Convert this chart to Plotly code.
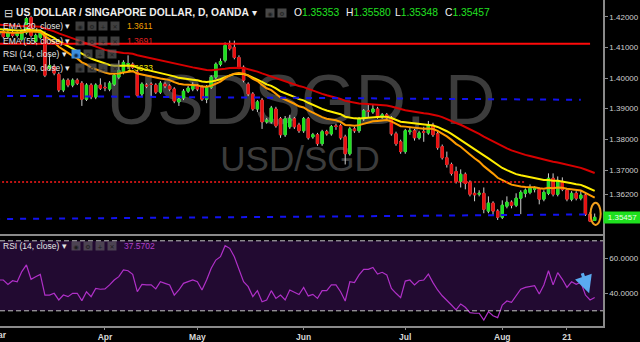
import plotly.graph_objects as go

# ---------------- data ----------------
month_ticks = [23, 43, 66, 88, 109, 123]
month_labels = ["Apr", "May", "Jun", "Jul", "Aug", "21"]
first_month_index = 0
first_month_label = "Mar"

opens = [1.4142, 1.4152, 1.4135, 1.4148, 1.4139, 1.4126, 1.4148, 1.4197, 1.4119, 1.4132,
         1.4145, 1.4032, 1.4038, 1.4012, 1.3961, 1.3993, 1.3977, 1.3993, 1.3983, 1.3931,
         1.3977, 1.3938, 1.3977, 1.3970, 1.3964, 1.3980, 1.4003, 1.4019, 1.4045, 1.4045,
         1.4019, 1.3948, 1.3977, 1.3980, 1.3977, 1.3954, 1.3980, 1.3974, 1.3964, 1.3922,
         1.3935, 1.3957, 1.3964, 1.3974, 1.3970, 1.3931, 1.3970, 1.4003, 1.4045, 1.4058,
         1.4106, 1.4100, 1.4067, 1.4035, 1.3980, 1.3948, 1.3899, 1.3928, 1.3857, 1.3857,
         1.3899, 1.3867, 1.3815, 1.3841, 1.3867, 1.3847, 1.3828, 1.3867, 1.3808, 1.3815,
         1.3786, 1.3825, 1.3818, 1.3844, 1.3844, 1.3808, 1.3753, 1.3834, 1.3828, 1.3867,
         1.3893, 1.3889, 1.3899, 1.3873, 1.3880, 1.3870, 1.3818, 1.3792, 1.3760, 1.3825,
         1.3828, 1.3805, 1.3825, 1.3821, 1.3847, 1.3818, 1.3776, 1.3740, 1.3718, 1.3695,
         1.3663, 1.3686, 1.3660, 1.3624, 1.3621, 1.3624, 1.3566, 1.3592, 1.3566, 1.3546,
         1.3582, 1.3595, 1.3585, 1.3608, 1.3624, 1.3627, 1.3637, 1.3637, 1.3605, 1.3624,
         1.3673, 1.3621, 1.3663, 1.3634, 1.3605, 1.3624, 1.3608, 1.3618, 1.3556, 1.35353]
highs = [1.4158, 1.4158, 1.4155, 1.4155, 1.4152, 1.4158, 1.4200, 1.4203, 1.4145, 1.4158,
         1.4152, 1.4074, 1.4045, 1.4019, 1.3999, 1.3999, 1.3999, 1.3999, 1.3990, 1.3983,
         1.3983, 1.3983, 1.3999, 1.3986, 1.3990, 1.4016, 1.4058, 1.4058, 1.4074, 1.4051,
         1.4025, 1.3986, 1.3983, 1.3986, 1.3983, 1.3990, 1.3986, 1.3980, 1.3970, 1.3938,
         1.3964, 1.3974, 1.3986, 1.3980, 1.3977, 1.3977, 1.4009, 1.4051, 1.4064, 1.4116,
         1.4122, 1.4122, 1.4074, 1.4041, 1.3986, 1.3954, 1.3928, 1.3935, 1.3870, 1.3909,
         1.3906, 1.3873, 1.3876, 1.3880, 1.3873, 1.3854, 1.3873, 1.3873, 1.3821, 1.3821,
         1.3831, 1.3831, 1.3847, 1.3851, 1.3851, 1.3815, 1.3841, 1.3841, 1.3873, 1.3899,
         1.3912, 1.3912, 1.3906, 1.3886, 1.3886, 1.3876, 1.3825, 1.3799, 1.3834, 1.3841,
         1.3834, 1.3828, 1.3841, 1.3860, 1.3854, 1.3825, 1.3783, 1.3760, 1.3724, 1.3711,
         1.3702, 1.3692, 1.3666, 1.3643, 1.3634, 1.3643, 1.3614, 1.3598, 1.3572, 1.3601,
         1.3614, 1.3601, 1.3624, 1.3634, 1.3640, 1.3653, 1.3647, 1.3643, 1.3634, 1.3689,
         1.3689, 1.3679, 1.3676, 1.3640, 1.3631, 1.3631, 1.3631, 1.3624, 1.3563, 1.35580]
lows = [1.4132, 1.4129, 1.4129, 1.4132, 1.4132, 1.4119, 1.4142, 1.4132, 1.4113, 1.4126,
        1.4003, 1.4025, 1.4009, 1.3954, 1.3954, 1.3970, 1.3970, 1.3977, 1.3909, 1.3925,
        1.3931, 1.3931, 1.3961, 1.3957, 1.3957, 1.3974, 1.3996, 1.4012, 1.4029, 1.4029,
        1.3938, 1.3941, 1.3967, 1.3938, 1.3948, 1.3948, 1.3967, 1.3957, 1.3918, 1.3909,
        1.3928, 1.3951, 1.3957, 1.3957, 1.3925, 1.3918, 1.3964, 1.3996, 1.4038, 1.4051,
        1.4090, 1.4061, 1.4029, 1.3986, 1.3941, 1.3893, 1.3889, 1.3834, 1.3851, 1.3851,
        1.3838, 1.3805, 1.3808, 1.3834, 1.3834, 1.3821, 1.3821, 1.3799, 1.3802, 1.3779,
        1.3779, 1.3812, 1.3812, 1.3831, 1.3799, 1.3718, 1.3747, 1.3821, 1.3821, 1.3860,
        1.3873, 1.3883, 1.3867, 1.3867, 1.3863, 1.3812, 1.3779, 1.3753, 1.3753, 1.3815,
        1.3796, 1.3799, 1.3792, 1.3815, 1.3808, 1.3766, 1.3734, 1.3708, 1.3682, 1.3656,
        1.3643, 1.3637, 1.3614, 1.3598, 1.3614, 1.3559, 1.3559, 1.3553, 1.3537, 1.3540,
        1.3575, 1.3575, 1.3579, 1.3556, 1.3611, 1.3621, 1.3627, 1.3588, 1.3598, 1.3618,
        1.3614, 1.3614, 1.3631, 1.3598, 1.3598, 1.3601, 1.3601, 1.3550, 1.3530, 1.35348]
closes = [1.4152, 1.4135, 1.4148, 1.4139, 1.4145, 1.4152, 1.4194, 1.4139, 1.4139, 1.4152,
          1.4009, 1.4041, 1.4016, 1.3961, 1.3993, 1.3977, 1.3993, 1.3983, 1.3931, 1.3977,
          1.3938, 1.3977, 1.3967, 1.3968, 1.3983, 1.4009, 1.4025, 1.4051, 1.4047, 1.4035,
          1.3944, 1.3980, 1.3974, 1.3979, 1.3954, 1.3983, 1.3974, 1.3964, 1.3925, 1.3931,
          1.3957, 1.3967, 1.3974, 1.3964, 1.3931, 1.3970, 1.4003, 1.4045, 1.4054, 1.4106,
          1.4096, 1.4067, 1.4035, 1.3993, 1.3948, 1.3899, 1.3922, 1.3857, 1.3863, 1.3902,
          1.3844, 1.3815, 1.3867, 1.3867, 1.3841, 1.3828, 1.3867, 1.3805, 1.3815, 1.3786,
          1.3825, 1.3818, 1.3841, 1.3842, 1.3805, 1.3753, 1.3834, 1.3828, 1.3867, 1.3893,
          1.3891, 1.3899, 1.3873, 1.3880, 1.3870, 1.3818, 1.3786, 1.3760, 1.3828, 1.3828,
          1.3805, 1.3821, 1.3823, 1.3847, 1.3815, 1.3773, 1.3740, 1.3718, 1.3689, 1.3663,
          1.3686, 1.3656, 1.3621, 1.3619, 1.3624, 1.3572, 1.3592, 1.3566, 1.3546, 1.3585,
          1.3595, 1.3585, 1.3608, 1.3627, 1.3634, 1.3640, 1.3639, 1.3605, 1.3627, 1.3673,
          1.3621, 1.3666, 1.3637, 1.3605, 1.3624, 1.3608, 1.3618, 1.3556, 1.3533, 1.35457]

rsi_values = [47.6, 47.6, 45.1, 47.2, 46.6, 52.4, 56.2, 48.0, 49.5, 50.8,
              39.0, 39.0, 40.0, 36.2, 39.0, 38.1, 40.0, 40.0, 35.8, 40.9,
              38.1, 42.8, 42.3, 42.5, 44.8, 47.6, 49.5, 53.3, 52.9, 50.8,
              40.9, 45.1, 44.8, 44.8, 42.5, 46.6, 45.7, 44.8, 39.0, 41.9,
              45.7, 46.6, 47.6, 46.6, 41.9, 47.6, 54.3, 59.0, 60.9, 67.2,
              65.7, 60.9, 54.3, 46.6, 43.8, 38.1, 41.5, 35.2, 36.2, 41.5,
              37.1, 39.0, 36.2, 41.9, 40.6, 39.3, 43.4, 38.5, 39.4, 37.1,
              41.5, 41.5, 44.8, 44.8, 40.9, 35.6, 46.6, 46.1, 50.5, 53.7,
              53.7, 54.8, 51.0, 52.0, 50.5, 42.8, 40.0, 37.5, 47.0, 47.6,
              44.8, 47.2, 47.6, 51.0, 46.1, 41.9, 38.6, 36.2, 33.3, 30.5,
              33.9, 32.0, 28.9, 28.6, 28.6, 24.7, 29.5, 27.2, 26.1, 33.3,
              35.6, 34.8, 38.5, 42.3, 43.4, 43.8, 44.4, 39.6, 44.8, 52.9,
              44.8, 51.8, 48.0, 43.4, 46.6, 45.1, 46.3, 39.0, 36.2, 37.57]

ema_periods = [55, 30, 20]
ema_seeds = [1.4175, 1.4160, 1.4150]          # indicator values at the first visible bar
ema_colors = ["#d80000", "#ffee00", "#ff9c00"]

resist_x = [-1, 128]
resist_y = [1.4112, 1.4112]
upper_trend_x = [-1, 126]
upper_trend_y = [1.3942, 1.3929]
lower_trend_x = [-1, 127]
lower_trend_y = [1.3540, 1.3555]
dotted_x = [-1, 114]
dotted_y = [1.3661, 1.3661]
ellipse_box = [128.1, 130.3, 1.3521, 1.3593]
arrow_tail = [126.2, 52.3]
arrow_head = [127.8, 40.0]

price_ticks = [1.42, 1.41, 1.40, 1.39, 1.38, 1.37, 1.362]
price_tick_text = ["1.42000", "1.41000", "1.40000", "1.39000", "1.38000", "1.37000", "1.36200"]
rsi_ticks = [60, 40]
rsi_tick_text = ["60.0000", "40.0000"]
last_price = 1.35457
last_price_text = "1.35457"

title_text = "US DOLLAR / SINGAPORE DOLLAR, D, OANDA"
ohlc_letters = ["O", "H", "L", "C"]
ohlc_text = ["1.35353", "1.35580", "1.35348", "1.35457"]
legend_names = ["EMA (20, close)", "EMA (55, close)", "RSI (14, close)", "EMA (30, close)"]
legend_values = ["1.3611", "1.3691", "", "1.3633"]
legend_value_colors = ["#f2a000", "#e02020", "#ffffff", "#f0e400"]
rsi_legend_name = "RSI (14, close)"
rsi_legend_value = "37.5702"
watermark_big = "USDSGD, D"
watermark_small = "USD/SGD"

# ---------------- figure ----------------
W, H = 640, 342
FONT = "Liberation Sans, Arial, sans-serif"
PLOT_RIGHT = 603
x_range = [0.28, 130.8]

def fx(px):
    return px / W
def fy(py):
    return 1 - py / H
def idx_to_paper(i):
    return (i - x_range[0]) / (x_range[1] - x_range[0]) * PLOT_RIGHT / W

x_idx = list(range(len(closes)))

def ema(vals, period, seed):
    a = 2.0 / (period + 1)
    e = seed
    out = []
    for v in vals:
        e = a * v + (1 - a) * e
        out.append(e)
    return out

fig = go.Figure()

# wicks (light gray)
fig.add_trace(go.Candlestick(
    x=x_idx, open=opens, high=highs, low=lows, close=closes,
    increasing=dict(line=dict(color="#cfcfcf", width=1), fillcolor="#cfcfcf"),
    decreasing=dict(line=dict(color="#cfcfcf", width=1), fillcolor="#cfcfcf"),
    whiskerwidth=0, showlegend=False, hoverinfo="skip", xaxis="x", yaxis="y"))
# bodies
body_hi = [max(o, c) for o, c in zip(opens, closes)]
body_lo = [min(o, c) for o, c in zip(opens, closes)]
fig.add_trace(go.Candlestick(
    x=x_idx, open=opens, high=body_hi, low=body_lo, close=closes,
    increasing=dict(line=dict(color="#1ee01e", width=1), fillcolor="#1ee01e"),
    decreasing=dict(line=dict(color="#e81010", width=1), fillcolor="#e81010"),
    whiskerwidth=0, showlegend=False, hoverinfo="skip", xaxis="x", yaxis="y"))

for p, s, col in zip(ema_periods, ema_seeds, ema_colors):
    fig.add_trace(go.Scatter(x=x_idx, y=ema(closes, p, s), mode="lines",
                             line=dict(color=col, width=2), showlegend=False,
                             hoverinfo="skip", xaxis="x", yaxis="y"))

fig.add_trace(go.Scatter(x=resist_x, y=resist_y, mode="lines",
                         line=dict(color="#ff0a0a", width=2), showlegend=False, xaxis="x", yaxis="y"))
for tx, ty in ((upper_trend_x, upper_trend_y), (lower_trend_x, lower_trend_y)):
    fig.add_trace(go.Scatter(x=tx, y=ty, mode="lines",
                             line=dict(color="#1212f0", width=2, dash="6px,7px"),
                             showlegend=False, xaxis="x", yaxis="y"))
fig.add_trace(go.Scatter(x=dotted_x, y=dotted_y, mode="lines",
                         line=dict(color="#ff1a1a", width=1.5, dash="2px,2px"),
                         showlegend=False, xaxis="x", yaxis="y"))

# RSI
fig.add_trace(go.Scatter(x=x_idx, y=rsi_values, mode="lines",
                         line=dict(color="#b030c8", width=1.2), showlegend=False,
                         hoverinfo="skip", xaxis="x2", yaxis="y2"))

shapes = []
# watermark (behind traces)
shapes.append(dict(type="rect", xref="paper", yref="paper", x0=fx(100), x1=fx(502),
                   y0=fy(122), y1=fy(64), line=dict(width=0), fillcolor="rgba(0,0,0,0)",
                   layer="below",
                   label=dict(text=watermark_big, textposition="middle center",
                              font=dict(size=70, color="#3c3c3c", family=FONT))))
shapes.append(dict(type="rect", xref="paper", yref="paper", x0=fx(200), x1=fx(400),
                   y0=fy(170), y1=fy(141), line=dict(width=0), fillcolor="rgba(0,0,0,0)",
                   layer="below",
                   label=dict(text=watermark_small, textposition="middle center",
                              font=dict(size=35, color="#3c3c3c", family=FONT))))
# RSI band
shapes.append(dict(type="rect", xref="paper", yref="y2", x0=0, x1=fx(PLOT_RIGHT), y0=30, y1=70,
                   fillcolor="#220a31", line=dict(width=0), layer="below"))
for lvl in (70, 30):
    shapes.append(dict(type="line", xref="paper", yref="y2", x0=0, x1=fx(PLOT_RIGHT), y0=lvl, y1=lvl,
                       line=dict(color="#c4c4c4", width=1, dash="5px,3px")))
# ellipse around last candle
shapes.append(dict(type="circle", xref="x", yref="y", x0=ellipse_box[0], x1=ellipse_box[1],
                   y0=ellipse_box[2], y1=ellipse_box[3], line=dict(color="#f0a01e", width=2)))

ann = []
def txt(px, py, s, size, color, anchor="left"):
    ann.append(dict(x=fx(px), y=fy(py), xref="paper", yref="paper", text=s, showarrow=False,
                    xanchor=anchor, yanchor="middle", font=dict(size=size, color=color, family=FONT)))
def icon(px, py, glyph, bg="rgba(105,105,105,0.6)", col="#1c1c1c"):
    ann.append(dict(x=fx(px), y=fy(py), xref="paper", yref="paper", text=glyph, showarrow=False,
                    xanchor="left", yanchor="middle", width=8, height=8, bgcolor=bg, borderpad=0,
                    font=dict(size=6, color=col, family="DejaVu Sans")))

# header
txt(2, 12.7, "⊟", 11, "#d8d8d8")
txt(14, 12.7, "<b>" + title_text + "</b> ▾", 10.3, "#eeeeee")
icon(265, 12.5, "◉", bg="rgba(80,80,80,0.9)")
icon(277, 12.5, "⚙", bg="rgba(80,80,80,0.9)")
for px, lt, val in zip([292, 344, 393, 443], ohlc_letters, ohlc_text):
    txt(px, 12.7, lt + "<span style='color:#22e022'>" + val + "</span>", 10.3, "#f0f0f0")

# indicator legend rows
row_y = [26.0, 40.7, 54.3, 68.3]
for name, val, vcol, ry in zip(legend_names, legend_values, legend_value_colors, row_y):
    txt(1, ry, name + " ▾", 8.5, "#e6e6e6")
    if name.startswith("RSI"):
        icon(71, ry, "◉", bg="#3d8fe0", col="#0a2a50")
        xs = [83, 95, 107]
    else:
        icon(75, ry, "◉")
        xs = [87, 98, 110]
    for gx, g in zip(xs, ["⚙", "+", "✕"]):
        icon(gx, ry, g)
    if val:
        txt(125, ry, val, 8.5, vcol)

# RSI pane legend
txt(1, 245.7, rsi_legend_name + " ▾", 8.5, "#e6e6e6")
for gx, g in zip([71, 83, 95, 107], ["◉", "⚙", "+", "✕"]):
    icon(gx, 245.5, g)
txt(122, 245.7, rsi_legend_value, 8.5, "#b040c8")

# first month label (its bar sits at the very left edge, label is cut off)
ann.append(dict(x=idx_to_paper(first_month_index), y=fy(334.5), xref="paper", yref="paper",
                text="<b>" + first_month_label + "</b>",
                showarrow=False, xanchor="center", yanchor="middle",
                font=dict(size=8.5, color="#d8d8d8", family=FONT)))

# last price label
ann.append(dict(x=fx(PLOT_RIGHT), y=last_price, xref="paper", yref="y", text=last_price_text,
                showarrow=False, xanchor="left", yanchor="middle", width=37, height=11,
                bgcolor="#1ee01e", borderpad=0, font=dict(size=8, color="#eaffea", family=FONT)))

# arrow in RSI pane
ann.append(dict(x=arrow_head[0], y=arrow_head[1], ax=arrow_tail[0], ay=arrow_tail[1],
                xref="x2", yref="y2", axref="x2", ayref="y2", text="", showarrow=True,
                arrowhead=2, arrowsize=1.1, arrowwidth=3.2, arrowcolor="#5aaaf0"))

axis_gray = "#8a8a8a"
fig.update_layout(
    width=W, height=H, margin=dict(l=0, r=0, t=0, b=0),
    paper_bgcolor="#000000", plot_bgcolor="#000000",
    showlegend=False, hovermode=False,
    font=dict(family=FONT, color="#cccccc"),
    xaxis=dict(domain=[0, fx(PLOT_RIGHT)], range=x_range, anchor="y",
               showticklabels=False, showgrid=False, zeroline=False,
               showline=True, linecolor=axis_gray, linewidth=1.5,
               rangeslider=dict(visible=False), fixedrange=True),
    yaxis=dict(domain=[1 - 234 / H, 1], range=[1.349126, 1.425447], side="right", anchor="x",
               tickvals=price_ticks, ticktext=price_tick_text, ticks="outside", ticklen=3,
               tickcolor=axis_gray, tickfont=dict(size=8, color="#cfcfcf", family=FONT),
               showgrid=False, zeroline=False, showline=True, linecolor=axis_gray, linewidth=1.5,
               automargin=False),
    xaxis2=dict(domain=[0, fx(PLOT_RIGHT)], range=x_range, anchor="y2",
                tickvals=month_ticks, ticktext=["<b>" + t + "</b>" for t in month_labels],
                ticks="outside", ticklen=3, tickcolor=axis_gray,
                tickfont=dict(size=8.5, color="#d8d8d8", family=FONT),
                showgrid=False, zeroline=False, showline=True, linecolor=axis_gray, linewidth=1.5,
                automargin=False),
    yaxis2=dict(domain=[1 - 325.5 / H, 1 - 236 / H], range=[21.6, 72.74], side="right", anchor="x2",
                tickvals=rsi_ticks, ticktext=rsi_tick_text, ticks="outside", ticklen=3,
                tickcolor=axis_gray, tickfont=dict(size=8, color="#cfcfcf", family=FONT),
                showgrid=False, zeroline=False, showline=True, linecolor=axis_gray, linewidth=1.5,
                automargin=False),
    shapes=shapes, annotations=ann,
)

fig.write_html("out.html")
